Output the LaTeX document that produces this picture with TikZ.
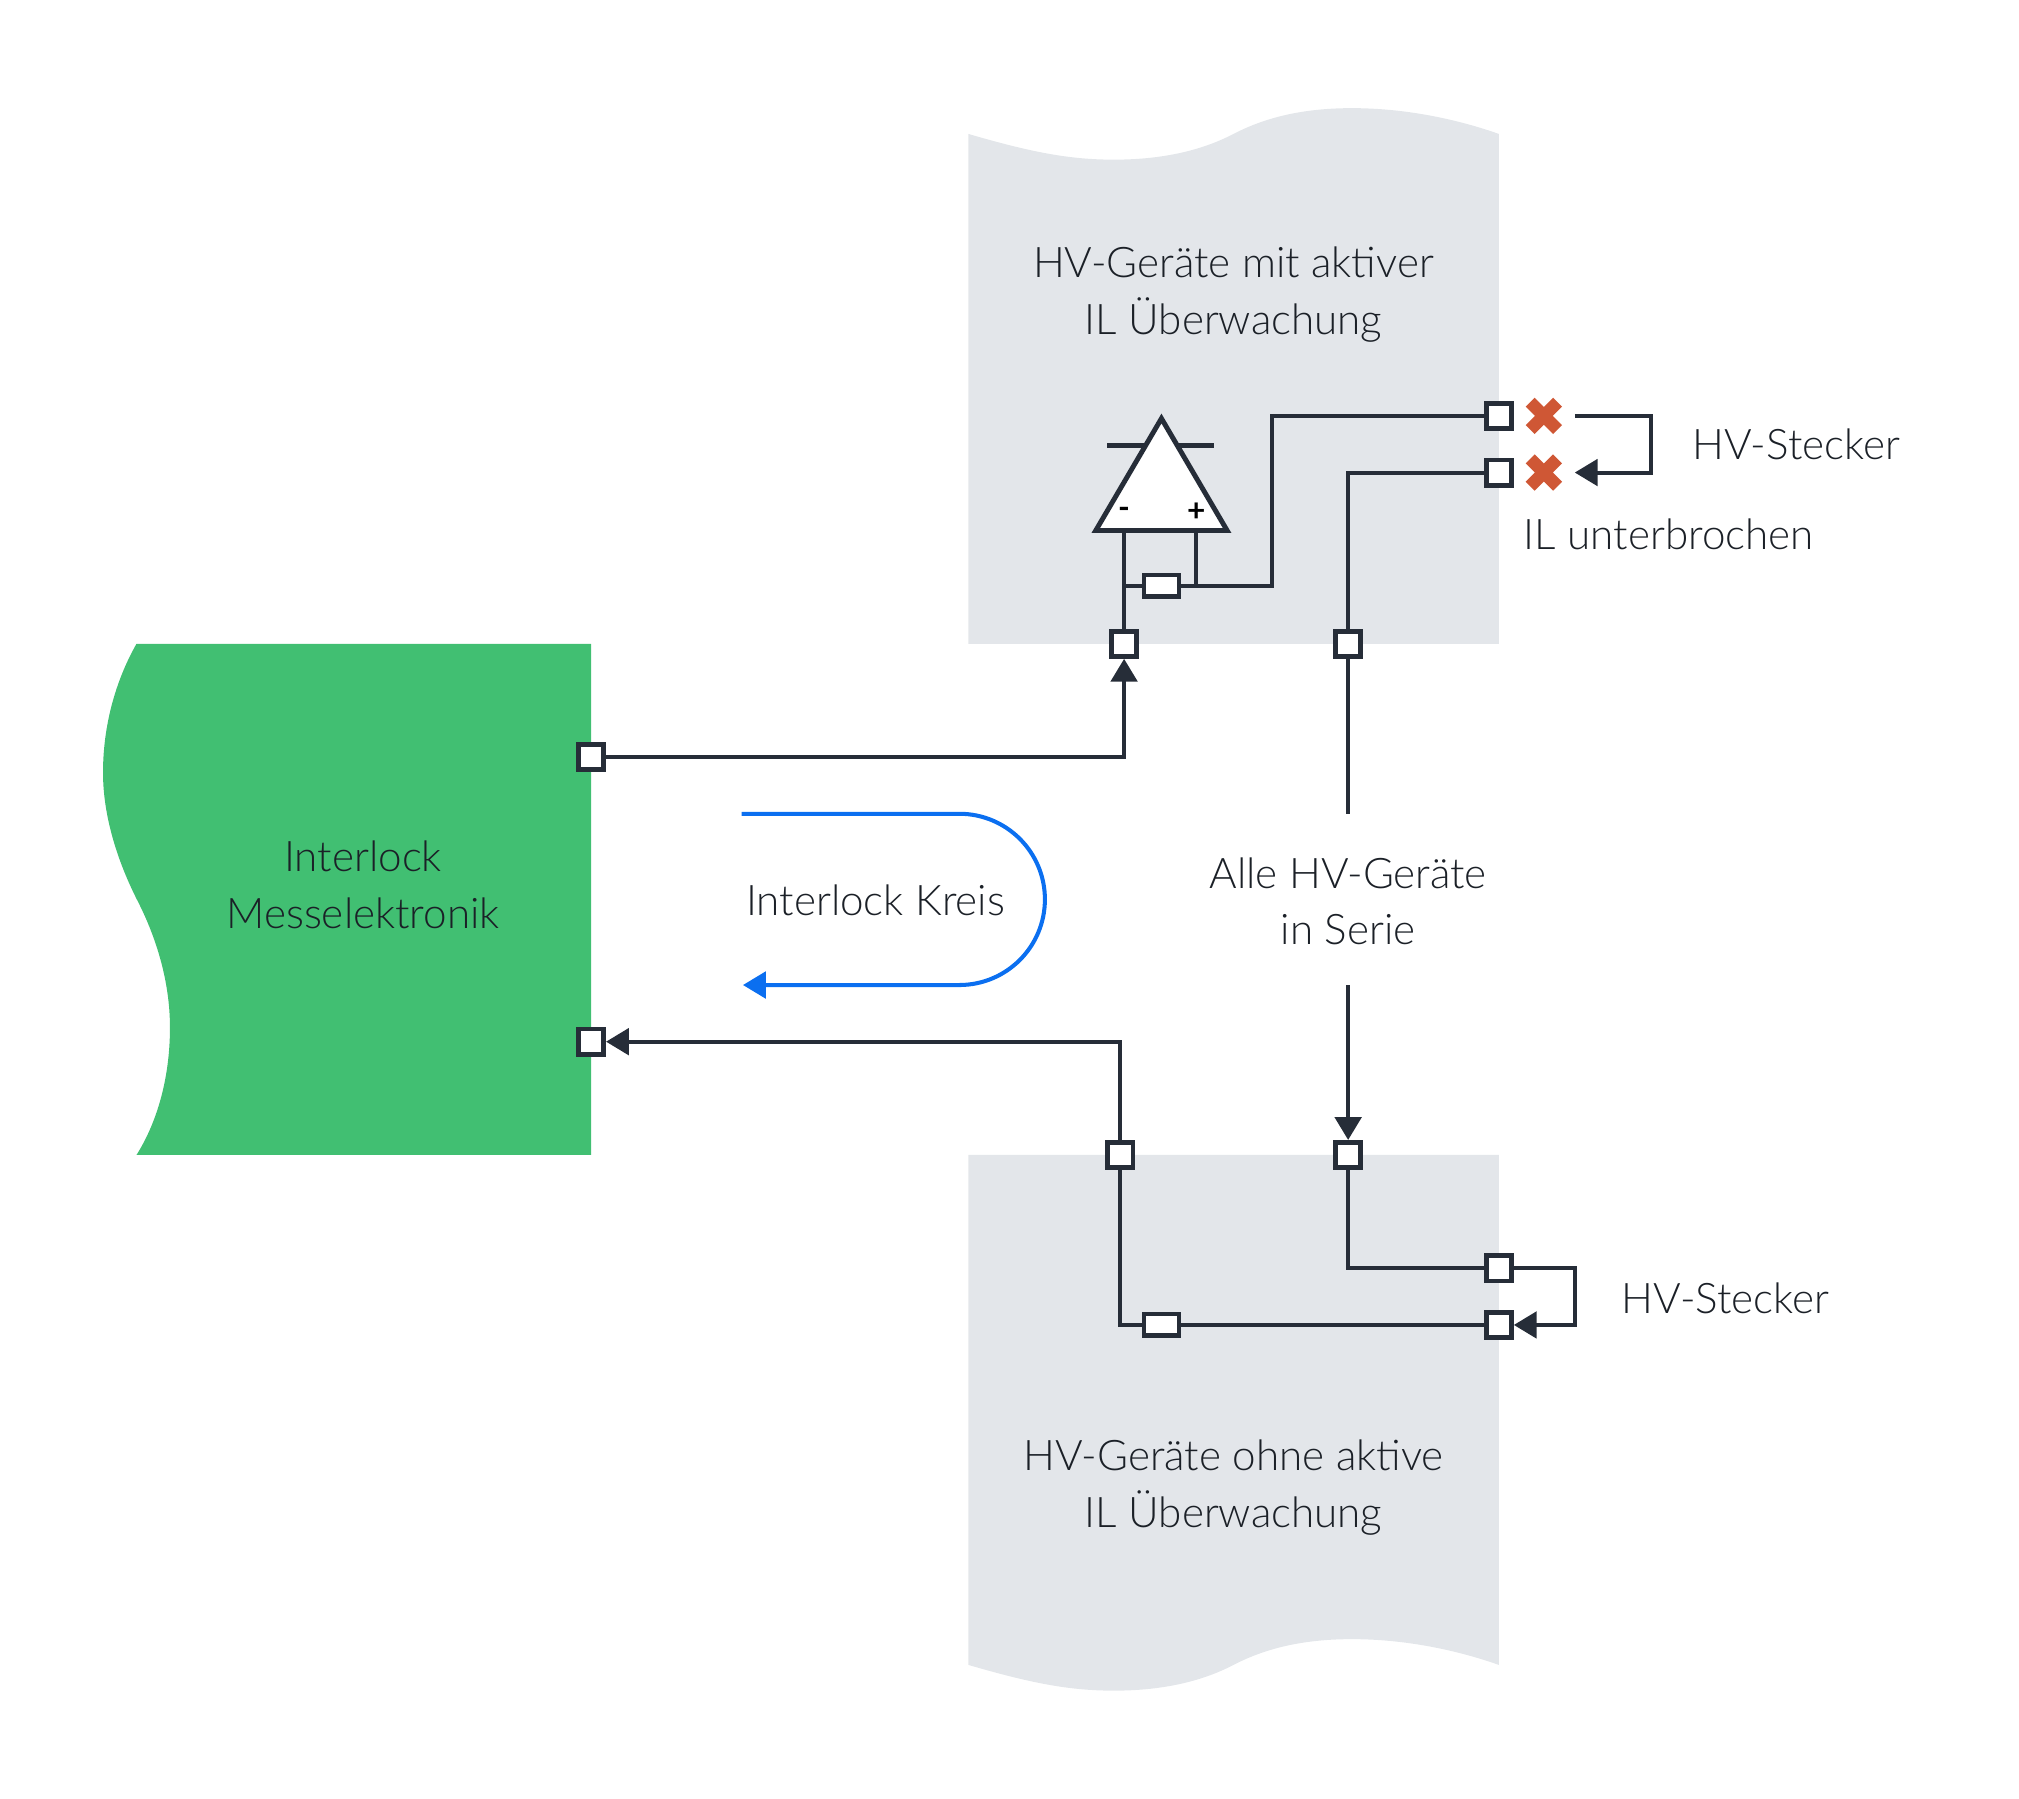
\documentclass[tikz,border=0pt]{standalone}
\usepackage{fontspec}
\setmainfont{Lato Light}[BoldFont=Lato Bold]
\usetikzlibrary{arrows.meta}
\usetikzlibrary{shapes.misc}
\definecolor{wirecol}{HTML}{262D38}
\definecolor{devgray}{HTML}{E3E6EA}
\definecolor{elecgreen}{HTML}{41BF72}
\definecolor{crossred}{HTML}{CF5735}
\definecolor{loopblue}{HTML}{0B6FF0}
\tikzset{
  wire/.style={draw=wirecol, line width=1.15pt},
  wirearrow/.style={wire, -{Triangle[length=6.5pt,width=7.5pt]}},
  port/.style={draw=wirecol, line width=1.35pt, fill=white, inner sep=0pt, minimum size=7.2pt},
  resistor/.style={draw=wirecol, line width=1.35pt, fill=white, inner sep=0pt, minimum width=10pt, minimum height=6.2pt},
  broken/.style={cross out, draw=crossred, line width=3.6pt, inner sep=0pt, outer sep=0pt, minimum size=7.8pt},
  label/.style={align=center, text=wirecol!70!black, font=\fontsize{12}{16.2}\selectfont},
  sign/.style={font=\bfseries\fontsize{9}{9}\selectfont, inner sep=0pt},
}
\begin{document}
\begin{tikzpicture}[x=0.012876cm, y=-0.012876cm]
      \useasboundingbox (0,0) rectangle (1568,1396.4);
      % devices and measuring unit
      \fill[devgray] (752,104) .. controls (800,118) and (830,124) .. (865,124) .. controls (905,124) and (935,116) .. (958,104) .. controls (985,90) and (1015,84) .. (1050,84) .. controls (1090,84) and (1130,92) .. (1164,104) -- (1164,500) -- (752,500) -- cycle;
      \fill[devgray] (752,1293) .. controls (800,1307) and (830,1313) .. (865,1313) .. controls (905,1313) and (935,1305) .. (958,1293) .. controls (985,1279) and (1015,1273) .. (1050,1273) .. controls (1090,1273) and (1130,1281) .. (1164,1293) -- (1164,897) -- (752,897) -- cycle;
      \fill[elecgreen] (106,500) .. controls (89,530) and (80,565) .. (80,600) .. controls (80,635) and (92,670) .. (106,698) .. controls (120,725) and (132,760) .. (132,798) .. controls (132,835) and (123,870) .. (106,897) -- (459,897) -- (459,500) -- cycle;
      % ports
      \node[port] (elecout) at (459,588) {};
      \node[port] (elecin) at (459,809) {};
      \node[port] (activein) at (873,500) {};
      \node[port] (activeout) at (1047,500) {};
      \node[port] (activehva) at (1164,323) {};
      \node[port] (activehvb) at (1164,367) {};
      \node[port] (passiveout) at (870,897) {};
      \node[port] (passivein) at (1047,897) {};
      \node[port] (passivehva) at (1164,985) {};
      \node[port] (passivehvb) at (1164,1029) {};
      \node[resistor] (activeres) at (902,455) {};
      \node[resistor] (passiveres) at (902,1029) {};
      \node[broken] (crossa) at (1199,323) {};
      \node[broken] (crossb) at (1199,367) {};
      % amplifier
      \coordinate (ampminus) at (873,412);
      \coordinate (ampplus) at (929,412);
      \draw[wire] (860,346)--(943,346);
      \draw[wire, fill=white, line width=1.4pt] (902,325)--(953,412)--(851,412)--cycle;
      \node[sign] (minuslabel) at (873,398) {-};
      \node[sign] (pluslabel) at (929,398) {+};
      \draw[wire] (ampminus)--(activein);
      \draw[wire] (ampplus)--(ampplus |- activeres);
      \draw[wire] (activeres.west)--(activeres.west -| ampminus);
      % connectors
      \coordinate (activebend) at (988,323);
      \draw[wire] (activeres.east) -| (activebend) -- (activehva);
      \draw[wire] (activehvb) -| (activeout);
      \coordinate (serietop) at (1047,632);
      \coordinate (seriebot) at (1047,765);
      \draw[wire] (activeout)--(serietop);
      \draw[wirearrow] (seriebot)--(passivein);
      \draw[wirearrow] (elecout) -| (activein);
      \draw[wirearrow] (passiveout) |- (elecin);
      \draw[wire] (passiveout) |- (passiveres);
      \draw[wire] (passiveres)--(passivehvb);
      \draw[wire] (passivein) |- (passivehva);
      \coordinate (plugbend) at (1223,1029);
      \draw[wirearrow] (passivehva) -| (plugbend) -- (passivehvb);
      \coordinate (loopa) at (1223,323);
      \coordinate (loopb) at (1282,323);
      \coordinate (loopc) at (1282,367);
      \coordinate (loopd) at (1223,367);
      \draw[wirearrow] (loopa)--(loopb)--(loopc)--(loopd);
      % interlock loop
      \coordinate (kreisstart) at (576,632);
      \coordinate (kreisend) at (577,765);
      \draw[draw=loopblue, line width=1.15pt, -{Triangle[length=6.5pt,width=7.5pt]}] (kreisstart)--(745,632) arc[start angle=-90, end angle=90, radius=66.5] -- (kreisend);
      % texts
      \node[label] (elecname) at (282,687) {Interlock\\Messelektronik};
      \node[label] (kreisname) at (680,699) {Interlock Kreis};
      \node[label] (activename) at (958,229) {HV-Geräte mit aktiver\\IL Überwachung};
      \node[label] (passivename) at (958,1155) {HV-Geräte ohne aktive\\IL Überwachung};
      \node[label] (seriename) at (1047,700) {Alle HV-Geräte\\in Serie};
      \node[label] (steckera) at (1395,345) {HV-Stecker};
      \node[label] (steckerb) at (1340,1008) {HV-Stecker};
      \node[label] (ilname) at (1296,415) {IL unterbrochen};
\end{tikzpicture}
\end{document}
